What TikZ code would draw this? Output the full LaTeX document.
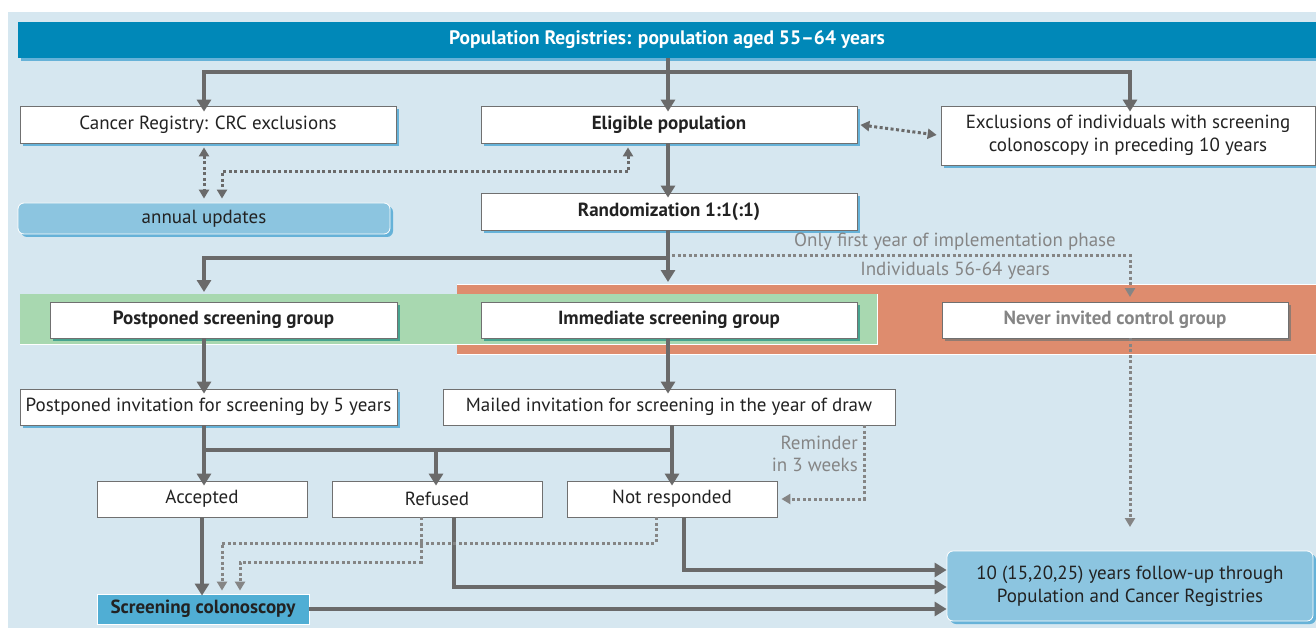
\documentclass[tikz,border=0pt]{standalone}
\usepackage{fontspec}
\setmainfont{PT Sans}
\usetikzlibrary{arrows.meta,shadows}
\definecolor{bgblue}{HTML}{D6E7F0}
\definecolor{banner}{HTML}{0088B8}
\definecolor{annblue}{HTML}{8CC5E0}
\definecolor{scblue}{HTML}{50AED4}
\definecolor{orangeband}{HTML}{DE8C6E}
\definecolor{greenband}{HTML}{A8D8B0}
\definecolor{arrgray}{HTML}{6A6A6A}
\definecolor{lightgray}{HTML}{858585}
\definecolor{txt}{HTML}{222222}
\definecolor{bordergray}{HTML}{707070}
\definecolor{shblue}{HTML}{5AADD6}
\definecolor{shteal}{HTML}{3E9E8C}
\definecolor{shgray}{HTML}{8A7A72}
\tikzset{
  fsz/.style={font=\fontsize{19}{23}\selectfont},
  fszb/.style={font=\fontsize{19}{23}\selectfont\bfseries},
  wbox/.style={draw=bordergray, line width=0.8pt, fill=white, text=txt, inner sep=0pt, align=center, fsz},
  shb/.style={drop shadow={fill=shblue, shadow xshift=3pt, shadow yshift=-3pt, opacity=0.9}},
  sht/.style={drop shadow={fill=shteal, shadow xshift=3pt, shadow yshift=-3pt, opacity=0.9}},
  shg/.style={drop shadow={fill=shgray, shadow xshift=3pt, shadow yshift=-3pt, opacity=0.9}},
  arr/.style={draw=arrgray, line width=4pt, -{Triangle[width=14pt,length=12pt]}},
  ln/.style={draw=arrgray, line width=4pt},
  dotarr/.style={draw=arrgray, line width=3pt, dash pattern=on 3pt off 2.5pt, -{Triangle[width=10pt,length=9pt]}},
  dotarrl/.style={draw=lightgray, line width=3pt, dash pattern=on 3pt off 2.5pt, -{Triangle[width=10pt,length=9pt]}},
  dbl/.style={{Triangle[width=10pt,length=9pt]}-{Triangle[width=10pt,length=9pt]}},
  lbl/.style={text=lightgray, inner sep=0pt, fsz}
}
\begin{document}
\begin{tikzpicture}[x=1pt,y=-1pt]
\useasboundingbox (0,0) rectangle (1316,628);
\fill[white] (0,0) rectangle (1316,628);
\fill[bgblue] (8,12) rectangle (1316,628);
% banner
\node[fill=banner, text=white, inner sep=0pt, minimum width=1298pt, minimum height=36pt, font=\fontsize{19.5}{23}\selectfont\bfseries, shb] (ban) at (667,40) {Population Registries: population aged 55--64 years};
% row 1
\node[wbox, shb, minimum width=376pt, minimum height=37pt] (cr) at (208,124.5) {Cancer Registry: CRC exclusions};
\node[wbox, shb, minimum width=376pt, minimum height=37pt, fszb] (elig) at (669,124.5) {Eligible population};
\node[wbox, shb, minimum width=374pt, minimum height=59pt] (excl) at (1128,135.5) {Exclusions of individuals with screening\\colonoscopy in preceding 10 years};
\node[wbox, draw=white, fill=annblue, rounded corners=6pt, shb, minimum width=372pt, minimum height=31pt] (ann) at (204,218.5) {annual updates};
\node[wbox, shb, minimum width=376pt, minimum height=37pt, fszb] (rand) at (669,211.5) {Randomization 1:1(:1)};
% bands
\fill[orangeband] (457,284) rectangle (1316,354);
\draw[white, line width=0.8pt] (457,284) -- (1316,284) (457,354) -- (1316,354);
\fill[greenband] (20,294) rectangle (877,344);
\draw[white, line width=0.8pt] (20,344) -- (877,344) -- (877,294);
\node[wbox, sht, minimum width=347pt, minimum height=36pt, fszb] (pg) at (223.5,320) {Postponed screening group};
\node[wbox, sht, minimum width=376pt, minimum height=36pt, fszb] (ig) at (669,320) {Immediate screening group};
\node[wbox, shg, minimum width=346pt, minimum height=36pt, text=lightgray, fszb] (ng) at (1115,320) {Never invited control group};
% invitations
\node[wbox, shb, minimum width=377pt, minimum height=36pt] (pi) at (208.5,407) {Postponed invitation for screening by 5 years};
\node[wbox, minimum width=452pt, minimum height=36pt] (mi) at (669,407) {Mailed invitation for screening in the year of draw};
% responses
\node[wbox, minimum width=210pt, minimum height=36pt] (acc) at (202,499) {Accepted};
\node[wbox, minimum width=210pt, minimum height=36pt] (ref) at (437,499) {Refused};
\node[wbox, minimum width=210pt, minimum height=36pt] (nr) at (672,499) {Not responded};
\node[wbox, draw=white, fill=scblue, minimum width=212pt, minimum height=30pt, fszb] (sc) at (203,609) {Screening colonoscopy};
\node[wbox, draw=white, fill=annblue, rounded corners=6pt, shb, minimum width=366pt, minimum height=70pt] (fu) at (1130,586) {10 (15,20,25) years follow-up through\\Population and Cancer Registries};
% labels
\node[lbl] (l1) at (955,242) {Only first year of implementation phase};
\node[lbl] (l2) at (955,271) {Individuals 56-64 years};
\node[lbl, anchor=east] (l3) at (858,443) {Reminder};
\node[lbl, anchor=east] (l4) at (858,465) {in 3 weeks};
% coordinates
\coordinate (j1) at (668,72);
\coordinate (j2) at (668,258);
\coordinate (gtop) at (204,292);
\coordinate (otop) at (668,282);
\coordinate (ntip) at (1130,297);
\coordinate (j3) at (204,450);
\coordinate (ftip) at (1130,527);
% solid connectors
\draw[arr] (ban.south -| j1) -- (j1) -| ([yshift=-6pt]cr.north -| 204,0);
\draw[arr] (ban.south -| j1) -- ([yshift=-6pt]elig.north -| j1);
\draw[arr] (j1) -| ([yshift=-6pt]excl.north -| 1130,0);
\draw[arr] (elig.south -| j1) -- ([yshift=-5pt]rand.north -| j1);
\draw[arr] (rand.south -| j1) -- (j2) -| (gtop);
\draw[arr] (j2) -- (otop);
\draw[arr] (pg.south -| gtop) -- ([yshift=-5pt]pi.north -| gtop);
\draw[arr] (ig.south -| j1) -- ([yshift=-5pt]mi.north -| j1);
\draw[ln] (pi.south -| j3) -- (j3) -- (672,450);
\draw[arr] (j3) -- ([yshift=-5pt]acc.north -| j3);
\draw[arr] (436,450) -- ([yshift=-5pt]ref.north -| 436,0);
\draw[arr] (mi.south -| 672,0) -- ([yshift=-5pt]nr.north);
\draw[arr] (acc.south) -- ([yshift=-2pt]sc.north -| acc.south);
\draw[arr] (ref.south -| 454,0) |- ([yshift=-1pt]fu.west);
\draw[arr] (nr.south -| 684,0) |- ([yshift=16pt]fu.west);
\draw[arr] (sc.east) -- (sc.east -| fu.west);
% dotted connectors
\draw[dotarr, dbl, shorten <=3pt, shorten >=4pt] (elig.east) -- (excl.west);
\draw[dotarr, dbl, shorten <=4pt, shorten >=4pt] (cr.south -| 204,0) -- (ann.north -| 204,0);
\draw[dotarr, dbl, shorten <=4pt, shorten >=4pt] (elig.south -| 628,0) -- (628,172) -- (222,172) -- (ann.north -| 222,0);
\draw[dotarrl] (672,256) -| (ntip);
\draw[dotarrl] (ng.south -| ntip) -- (ftip);
\draw[dotarrl, shorten >=4pt] (mi.south -| 864,0) |- (nr.east);
\draw[dotarrl, shorten >=3pt] (nr.south -| 656,0) -- (656,543) -| (sc.north -| 222,0);
\draw[dotarrl, shorten >=3pt] (ref.south -| 421,0) -- (421,562) -| (sc.north -| 240,0);
\end{tikzpicture}
\end{document}
